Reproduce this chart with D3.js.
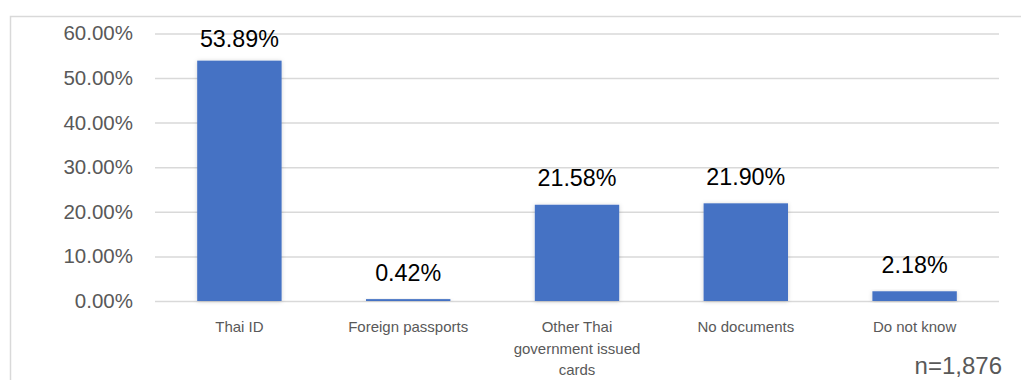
<!DOCTYPE html>
<html>
<head>
<meta charset="utf-8">
<script src="https://cdn.jsdelivr.net/npm/d3@7"></script>
<style>
  html, body { margin: 0; padding: 0; background: #ffffff; }
  svg { display: block; }
</style>
</head>
<body>
<svg id="chart" width="1021" height="380"></svg>
<script>
// ID document types held by respondents
const categories = ["Thai ID", "Foreign passports", "Other Thai government issued cards", "No documents", "Do not know"];
const shares = [53.89, 0.42, 21.58, 21.90, 2.18];
const yTicks = [0, 10, 20, 30, 40, 50, 60];
const sampleNote = "n=1,876";

const W = 1021, H = 380;
const plot = { left: 155, right: 999, top: 33.4, bottom: 301 };
const font = "'Liberation Sans', Arial, sans-serif";

const svg = d3.select("#chart");

// soft shadow under the bars
const defs = svg.append("defs");
const shadow = defs.append("filter").attr("id", "barShadow")
  .attr("x", "-20%").attr("y", "-20%").attr("width", "140%").attr("height", "140%");
shadow.append("feDropShadow").attr("dx", 0).attr("dy", 0.5)
  .attr("stdDeviation", 2).attr("flood-color", "#000").attr("flood-opacity", 0.18);

// outer chart frame (top and left edges visible)
svg.append("path")
  .attr("d", `M10.5,${H} L10.5,16.5 L${W},16.5`)
  .attr("fill", "none").attr("stroke", "#d9d9d9").attr("stroke-width", 1.5);

const x = d3.scaleBand().domain(categories).range([plot.left, plot.right]).paddingInner(0.5).paddingOuter(0.25);
const y = d3.scaleLinear().domain([0, 60]).range([plot.bottom, plot.top]);

// gridlines + y tick labels
const yAxis = d3.axisLeft(y).tickValues(yTicks)
  .tickSize(-(plot.right - plot.left)).tickPadding(22)
  .tickFormat(d => d.toFixed(2) + "%");
const gy = svg.append("g").attr("transform", `translate(${plot.left},0)`).call(yAxis);
gy.select(".domain").remove();
gy.selectAll(".tick line").attr("stroke", "#d9d9d9").attr("stroke-width", 1.5);
gy.selectAll(".tick text")
  .attr("fill", "#595959").attr("font-family", font).attr("font-size", 20.5);

// bars
svg.append("g").selectAll("rect").data(categories).join("rect")
  .attr("x", d => x(d))
  .attr("width", x.bandwidth())
  .attr("y", (d, i) => y(shares[i]))
  .attr("height", (d, i) => y(0) - y(shares[i]))
  .attr("fill", "#4472c4")
  .attr("filter", "url(#barShadow)");

// value labels, kept inside the plot area
svg.append("g").selectAll("text").data(categories).join("text")
  .attr("x", d => x(d) + x.bandwidth() / 2)
  .attr("y", (d, i) => Math.max(y(shares[i]) - 18.5, 47))
  .attr("text-anchor", "middle")
  .attr("font-family", font).attr("font-size", 23.3).attr("fill", "#000")
  .text((d, i) => shares[i].toFixed(2) + "%");

// category labels, wrapped to the band
const ctx = document.createElement("canvas").getContext("2d");
ctx.font = `15px ${font}`;
function wrap(label, maxW) {
  const words = label.split(" ");
  const lines = [];
  let line = "";
  words.forEach(w => {
    const test = line ? line + " " + w : w;
    if (line && ctx.measureText(test).width > maxW) { lines.push(line); line = w; }
    else line = test;
  });
  if (line) lines.push(line);
  return lines;
}
const xg = svg.append("g");
categories.forEach(c => {
  const t = xg.append("text")
    .attr("x", x(c) + x.bandwidth() / 2).attr("y", 332)
    .attr("text-anchor", "middle")
    .attr("font-family", font).attr("font-size", 15).attr("fill", "#595959");
  wrap(c, 140).forEach((ln, i) => {
    t.append("tspan").attr("x", x(c) + x.bandwidth() / 2).attr("dy", i === 0 ? 0 : 21.5).text(ln);
  });
});

// sample size note
svg.append("text")
  .attr("x", 1002).attr("y", 374).attr("text-anchor", "end")
  .attr("font-family", font).attr("font-size", 24).attr("fill", "#595959")
  .text(sampleNote);
</script>
</body>
</html>
